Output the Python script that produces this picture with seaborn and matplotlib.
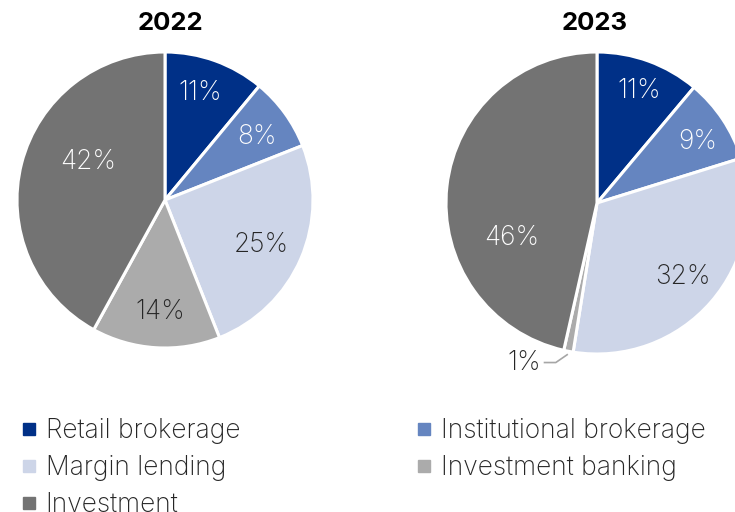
import numpy as np
import matplotlib
matplotlib.use("Agg")
import matplotlib.pyplot as plt
import seaborn as sns
from matplotlib.lines import Line2D

# Revenue structure by business segment, %
segments = ["Retail brokerage", "Institutional brokerage", "Margin lending",
            "Investment banking", "Investment"]
years = ["2022", "2023"]
share_2022 = [11, 8, 25, 14, 42]
share_2023 = [11, 9, 32, 1, 46]

palette = ["#003087", "#6585C0", "#CDD5E8", "#ABABAB", "#737373"]
text_on = ["white", "white", "#262626", "#262626", "white"]

sns.set_theme(style="white")
plt.rcParams["font.family"] = ["Inter", "DejaVu Sans"]

W, H = 735, 512
fig = plt.figure(figsize=(W / 100, H / 100), dpi=100)
PAD = 1.02


def pie_axes(cx, cy, r):
    """Axes whose unit circle sits at pixel centre (cx, cy) with radius r."""
    h = r * PAD
    return fig.add_axes([(cx - h) / W, (H - cy - h) / H, 2 * h / W, 2 * h / H])


# (radial fraction, angular nudge in degrees) for each percentage label;
# None marks a label placed outside with a leader line
label_layout = {
    "2022": [(0.76, 1.7), (0.75, -1.6), (0.72, -1.5), (0.76, 1), (0.58, -12)],
    "2023": [(0.79, -0.7), (0.78, -2.2), (0.75, 0), None, (0.61, 29)],
}
LABEL_SIZE = 19


def draw_pie(ax, values, year):
    wedges, _ = ax.pie(values, colors=palette, startangle=90, counterclock=False,
                       wedgeprops=dict(edgecolor="white", linewidth=2.2),
                       radius=1.0)
    ax.set_xlim(-PAD, PAD)
    ax.set_ylim(-PAD, PAD)
    ax.set_aspect("equal")
    ax.axis("off")
    for w, v, col, lay in zip(wedges, values, text_on, label_layout[year]):
        mid = np.deg2rad((w.theta1 + w.theta2) / 2)
        if lay is None:
            ex, ey = 1.02 * np.cos(mid), 1.02 * np.sin(mid)
            kx, ky = ex - 0.08, ey - 0.055
            sx, sy = kx - 0.08, ky
            ax.plot([sx, kx, ex], [sy, ky, ey], color="#A6A6A6", lw=1.2,
                    clip_on=False, solid_capstyle="butt")
            ax.text(sx - 0.02, sy, f"{v}%", ha="right", va="center",
                    fontsize=LABEL_SIZE, color="#262626", fontweight="light",
                    clip_on=False)
            continue
        r, nudge = lay
        a = mid + np.deg2rad(nudge)
        ax.text(r * np.cos(a), r * np.sin(a), f"{v}%", ha="center", va="center",
                fontsize=LABEL_SIZE, color=col, fontweight="light")


ax1 = pie_axes(165, 200, 148)
draw_pie(ax1, share_2022, "2022")
ax2 = pie_axes(597, 203, 151)
draw_pie(ax2, share_2023, "2023")

fig.text(170 / W, 1 - 24 / H, years[0], ha="center", va="center",
         fontsize=18.5, fontweight="bold", color="black")
fig.text(595 / W, 1 - 24 / H, years[1], ha="center", va="center",
         fontsize=18.5, fontweight="bold", color="black")


def column_legend(idx, x_px):
    handles = [Line2D([], [], marker="s", linestyle="", markersize=8.5,
                      color=palette[i]) for i in idx]
    fig.legend(handles, [segments[i] for i in idx], ncol=1, frameon=False,
               loc="upper left", bbox_to_anchor=(x_px / W, 1 - 418 / H),
               borderpad=0, borderaxespad=0, handlelength=0.6,
               handletextpad=0.33, labelspacing=0.42,
               prop=dict(size=19, weight="light"), labelcolor="#262626")


column_legend([0, 2, 4], 21)
column_legend([1, 3], 416)

fig.savefig("out.png", dpi=100)
